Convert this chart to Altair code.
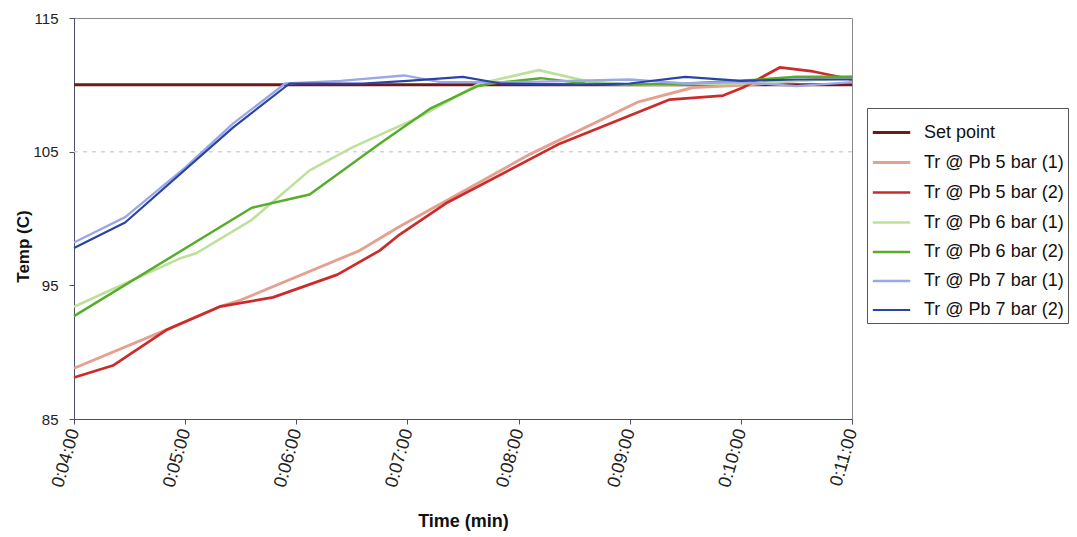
import altair as alt
import pandas as pd

# ---- data (time in minutes, temperature in C) ----
series_names = [
    "Set point",
    "Tr @ Pb 5 bar (1)",
    "Tr @ Pb 5 bar (2)",
    "Tr @ Pb 6 bar (1)",
    "Tr @ Pb 6 bar (2)",
    "Tr @ Pb 7 bar (1)",
    "Tr @ Pb 7 bar (2)",
]
series_colors = ["#6E1A1C", "#E6A090", "#CC2B2B", "#BEE09A", "#58AC2C", "#9CA8E6", "#2A44A6"]
series_widths = [3, 2.2, 2.5, 2.2, 2.5, 2.2, 2.5]

setpoint_t = [4.0, 11.0]
setpoint_v = [110.0, 110.0]

pb5_1_t = [4.0, 4.84, 5.31, 5.5, 6.57, 6.93, 8.1, 9.07, 9.57, 10.08, 10.5, 11.0]
pb5_1_v = [88.8, 91.7, 93.4, 93.9, 97.6, 99.4, 104.8, 108.7, 109.8, 110.0, 110.3, 110.6]

pb5_2_t = [4.0, 4.35, 4.84, 5.31, 5.79, 6.37, 6.75, 6.93, 7.36, 8.37, 9.36, 9.84, 10.02, 10.35, 10.65, 11.0]
pb5_2_v = [88.1, 89.0, 91.7, 93.4, 94.1, 95.8, 97.6, 98.8, 101.2, 105.6, 108.9, 109.2, 109.8, 111.3, 111.0, 110.4]

pb6_1_t = [4.0, 4.95, 5.1, 5.6, 6.12, 6.5, 7.11, 7.65, 8.18, 8.6, 9.0, 10.0, 11.0]
pb6_1_v = [93.4, 97.0, 97.4, 99.9, 103.6, 105.3, 107.6, 110.1, 111.1, 110.3, 110.0, 110.1, 110.5]

pb6_2_t = [4.0, 5.6, 6.12, 6.75, 7.2, 7.63, 7.75, 8.2, 8.6, 9.0, 9.5, 10.0, 10.5, 11.0]
pb6_2_v = [92.7, 100.8, 101.8, 105.6, 108.2, 109.9, 110.1, 110.5, 110.1, 110.0, 110.1, 110.3, 110.6, 110.6]

pb7_1_t = [4.0, 4.46, 5.0, 5.43, 5.9, 6.4, 6.97, 7.3, 8.0, 9.0, 9.5, 10.0, 10.5, 11.0]
pb7_1_v = [98.2, 100.1, 103.8, 107.1, 110.1, 110.3, 110.7, 110.2, 110.2, 110.4, 110.1, 110.2, 109.9, 110.2]

pb7_2_t = [4.0, 4.46, 5.43, 5.94, 6.6, 7.0, 7.5, 7.84, 8.5, 9.0, 9.5, 10.0, 10.5, 11.0]
pb7_2_v = [97.8, 99.7, 106.8, 110.1, 110.1, 110.3, 110.6, 110.1, 110.0, 110.1, 110.6, 110.3, 110.4, 110.4]

x_ticks = [4, 5, 6, 7, 8, 9, 10, 11]
y_ticks = [85, 95, 105, 115]
grid_values = [105]

all_t = [setpoint_t, pb5_1_t, pb5_2_t, pb6_1_t, pb6_2_t, pb7_1_t, pb7_2_t]
all_v = [setpoint_v, pb5_1_v, pb5_2_v, pb6_1_v, pb6_2_v, pb7_1_v, pb7_2_v]

rows = []
for name, ts, vs in zip(series_names, all_t, all_v):
    for i, (t, v) in enumerate(zip(ts, vs)):
        rows.append({"series": name, "t": t, "v": v, "idx": i})
df = pd.DataFrame(rows)

FONT = "Liberation Sans"
axis_color = "#4a4f66"

x_enc = alt.X(
    "t:Q",
    scale=alt.Scale(domain=[4, 11], nice=False, zero=False),
    axis=alt.Axis(
        values=x_ticks,
        labelExpr="'0:' + (datum.value < 10 ? '0' : '') + datum.value + ':00'",
        labelAngle=286,
        labelFontSize=18,
        labelColor="#222",
        labelPadding=5,
        tickSize=5,
        tickColor=axis_color,
        domainColor=axis_color,
        grid=False,
        title="Time (min)",
        titleFontSize=18,
        titleFontWeight="bold",
        titleColor="#111",
        titlePadding=23,
    ),
)
y_enc = alt.Y(
    "v:Q",
    scale=alt.Scale(domain=[85, 115], nice=False, zero=False),
    axis=alt.Axis(
        values=y_ticks,
        labelFontSize=15,
        labelColor="#222",
        labelPadding=11,
        tickSize=5,
        tickColor=axis_color,
        domainColor=axis_color,
        grid=False,
        title="Temp (C)",
        titleFontSize=17,
        titleFontWeight="bold",
        titleColor="#111",
        titlePadding=0,
        titleY=228,
    ),
)

grid = alt.Chart(pd.DataFrame({"v": grid_values})).mark_rule(
    color="#d4d4d4", strokeDash=[4, 5], strokeWidth=1.5
).encode(y=alt.Y("v:Q", scale=alt.Scale(domain=[85, 115], nice=False, zero=False)))

lines = alt.Chart(df).mark_line(strokeJoin="round").encode(
    x=x_enc,
    y=y_enc,
    color=alt.Color(
        "series:N",
        scale=alt.Scale(domain=series_names, range=series_colors),
        sort=series_names,
        legend=alt.Legend(
            title=None,
            orient="none",
            legendX=793,
            legendY=90,
            symbolType="stroke",
            symbolSize=1400,
            symbolStrokeWidth=3,
            labelFontSize=18,
            labelColor="#111",
            labelFont=FONT,
            labelOffset=12,
            rowPadding=0,
            padding=4,
            strokeColor="#555",
            fillColor="white",
        ),
    ),
    strokeWidth=alt.StrokeWidth(
        "series:N", scale=alt.Scale(domain=series_names, range=series_widths), legend=None
    ),
    order="idx:Q",
)

chart = (
    alt.layer(grid, lines)
    .properties(
        width=778,
        height=401,
        autosize=alt.AutoSizeParams(type="none"),
        padding={"left": 74, "top": 18, "right": 225, "bottom": 118},
        background="white",
    )
    .configure(font=FONT)
    .configure_view(stroke="#8a8a8a", strokeWidth=1)
)

chart.save("out.html", embed_options={"renderer": "svg", "actions": False})
